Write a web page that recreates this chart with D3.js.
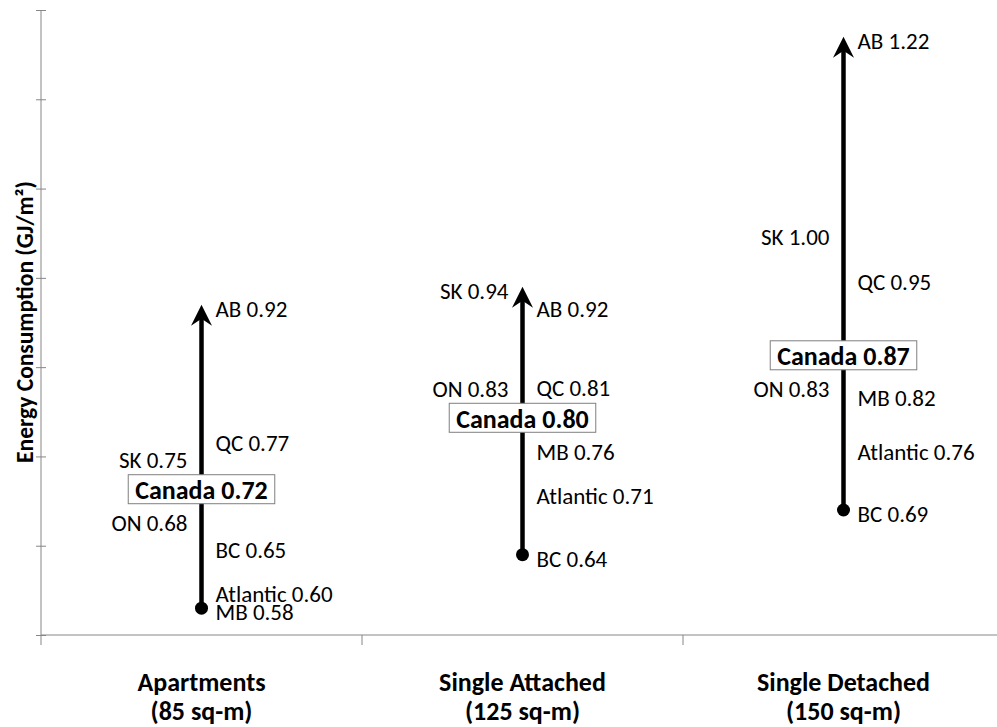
<!DOCTYPE html>
<html>
<head>
<meta charset="utf-8">
<script src="https://cdn.jsdelivr.net/npm/d3@7"></script>
<style>
  html, body { margin: 0; padding: 0; background: #fff; }
  svg { display: block; font-family: Carlito, Lato, "Open Sans", sans-serif; }
</style>
</head>
<body>
<svg id="chart" width="997" height="727"></svg>
<script>
// Dwelling types and their average floor area
const categories = ["Apartments", "Single Attached", "Single Detached"];
const floorAreas = ["(85 sq-m)", "(125 sq-m)", "(150 sq-m)"];

// Energy intensity by region (GJ/m²), one value per dwelling type
const regions = ["AB", "SK", "QC", "ON", "MB", "Atlantic", "BC"];
const AB       = [0.92, 0.92, 1.22];
const SK       = [0.75, 0.94, 1.00];
const QC       = [0.77, 0.81, 0.95];
const ON       = [0.68, 0.83, 0.83];
const MB       = [0.58, 0.76, 0.82];
const Atlantic = [0.60, 0.71, 0.76];
const BC       = [0.65, 0.64, 0.69];
const canada   = [0.72, 0.80, 0.87];

// Value axis: unlabelled ticks every 0.1
const yDomain = [0.55, 1.25];
const yTicks = [0.55, 0.65, 0.75, 0.85, 0.95, 1.05, 1.15, 1.25];

const series = { AB, SK, QC, ON, MB, Atlantic, BC };
const leftSide = new Set(["SK", "ON"]);
// hand-placed label nudges (px) where labels would collide
const labelNudge = { "Single Attached|QC": -19 };

const svg = d3.select("#chart");
const axisColor = "#868686";

const x = d3.scaleBand().domain(categories).range([41, 1004]).paddingInner(0).paddingOuter(0);
const y = d3.scaleLinear().domain(yDomain).range([635, 10]);

// Value axis
const yAxis = d3.axisLeft(y).tickValues(yTicks).tickSize(5).tickFormat("");
const gy = svg.append("g").attr("transform", "translate(41,0)").call(yAxis);
gy.select(".domain").attr("stroke", axisColor).attr("d", "M0,10V645");
gy.selectAll(".tick line").attr("stroke", axisColor).attr("x1", 5).attr("x2", -5);

// Category axis
const gx = svg.append("g").attr("transform", "translate(0,635)");
gx.append("line").attr("x1", 41).attr("x2", 1004).attr("y1", 0).attr("y2", 0).attr("stroke", axisColor);
gx.selectAll("line.sep")
  .data(categories.slice(1))
  .join("line")
  .attr("class", "sep")
  .attr("x1", d => x(d)).attr("x2", d => x(d))
  .attr("y1", 0).attr("y2", 10)
  .attr("stroke", axisColor);

const catLabels = svg.append("g").attr("font-weight", "bold").attr("font-size", 26).attr("fill", "#000").attr("text-anchor", "middle");
categories.forEach((c, i) => {
  const cx = x(c) + x.bandwidth() / 2;
  catLabels.append("text").attr("x", cx).attr("y", 691).text(c);
  catLabels.append("text").attr("x", cx).attr("y", 720).text(floorAreas[i]);
});

// Axis title
svg.append("text")
  .attr("transform", `translate(33,${322}) rotate(-90)`)
  .attr("text-anchor", "middle")
  .attr("font-weight", "bold")
  .attr("font-size", 23.5)
  .text("Energy Consumption (GJ/m²)");

const plot = svg.append("g");

categories.forEach((c, i) => {
  const cx = x(c) + x.bandwidth() / 2;
  const vals = regions.map(r => series[r][i]);
  const lo = d3.min(vals), hi = d3.max(vals);

  // range line from lowest to highest region, arrow at the top
  plot.append("line")
    .attr("x1", cx).attr("x2", cx)
    .attr("y1", y(lo)).attr("y2", y(hi) + 10)
    .attr("stroke", "#000").attr("stroke-width", 4.5);
  plot.append("path")
    .attr("transform", `translate(${cx},${y(hi)})`)
    .attr("d", "M0,0L-10.5,21L0,14L10.5,21Z")
    .attr("fill", "#000");
  plot.append("circle")
    .attr("cx", cx).attr("cy", y(lo)).attr("r", 6.5).attr("fill", "#000");

  // regional labels
  regions.forEach(r => {
    const v = series[r][i];
    const left = leftSide.has(r);
    const nudge = labelNudge[c + "|" + r] || 0;
    plot.append("text")
      .attr("x", left ? cx - 14 : cx + 14)
      .attr("y", y(v) + 4 + nudge)
      .attr("dominant-baseline", "central")
      .attr("text-anchor", left ? "end" : "start")
      .attr("font-size", 23)
      .attr("fill", "#000")
      .text(`${r} ${v.toFixed(2)}`);
  });

  // national average box
  const g = plot.append("g");
  const cy = y(canada[i]) + 6;
  const t = g.append("text")
    .attr("x", cx)
    .attr("y", cy + 1)
    .attr("dominant-baseline", "central")
    .attr("text-anchor", "middle")
    .attr("font-size", 26)
    .attr("font-weight", "bold")
    .attr("fill", "#000")
    .text(`Canada ${canada[i].toFixed(2)}`);
  const bb = t.node().getBBox();
  g.insert("rect", "text")
    .attr("x", cx - bb.width / 2 - 7).attr("width", bb.width + 14)
    .attr("y", cy - 14.5).attr("height", 29)
    .attr("fill", "#fff").attr("stroke", "#7f7f7f").attr("stroke-width", 1);
});
</script>
</body>
</html>
